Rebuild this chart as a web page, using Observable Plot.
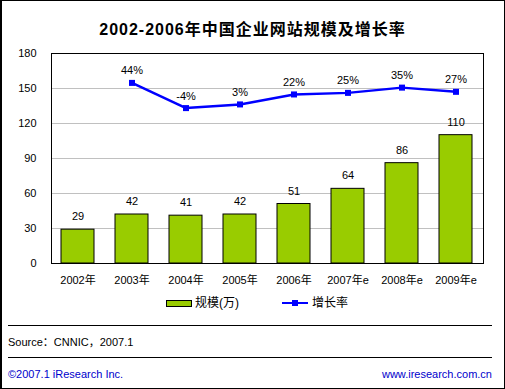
<!DOCTYPE html>
<html>
<head>
<meta charset="utf-8">
<script src="https://cdn.jsdelivr.net/npm/d3@7"></script>
<script src="https://cdn.jsdelivr.net/npm/@observablehq/plot@0.6"></script>
<style>
  html, body { margin: 0; padding: 0; background: #fff; }
  #wrap { position: relative; width: 505px; height: 389px; background: #fff; overflow: hidden;
          font-family: "Liberation Sans", "Noto Sans CJK SC", sans-serif; font-size: 11px; color: #000; }
  #border { position: absolute; left: 0; top: 0; width: 505px; height: 389px; box-sizing: border-box;
            border: 1px solid #000; border-left-width: 2px; pointer-events: none; }
  .abs { position: absolute; white-space: nowrap; line-height: 1; }
  #title { left: 0; width: 505px; top: 22px; text-align: center; font-weight: bold; font-size: 16px; letter-spacing: 1px; }
  #chart { position: absolute; left: 0; top: 40px; }
  .hr { position: absolute; left: 8px; width: 484px; height: 0; border-top: 1px solid #000; }
</style>
</head>
<body>
<div id="wrap">
  <div id="title" class="abs">2002-2006年中国企业网站规模及增长率</div>
  <div id="chart"></div>
  <div class="abs" style="left:166px; top:300px; width:24px; height:5px; background:#99CC00; border:1px solid #000;"></div>
  <div class="abs" style="left:195px; top:297px; font-size:12px;">规模(万)</div>
  <div class="abs" style="left:282px; top:302px; width:26px; height:0; border-top:2px solid #0000FF;"></div>
  <div class="abs" style="left:292px; top:300px; width:6px; height:6px; background:#0000FF;"></div>
  <div class="abs" style="left:312px; top:297px; font-size:12px;">增长率</div>
  <div class="hr" style="top:325px;"></div>
  <div class="abs" style="left:8px; top:337px; font-size:11px;">Source：CNNIC，2007.1</div>
  <div class="hr" style="top:357px;"></div>
  <div class="abs" style="left:8px; top:369px; font-size:11px; color:#0000CC;">©2007.1 iResearch Inc.</div>
  <div class="abs" style="right:13px; top:369px; font-size:11px; color:#0000CC;">www.iresearch.com.cn</div>
  <div id="border"></div>
</div>
<script>
const years = ["2002年", "2003年", "2004年", "2005年", "2006年", "2007年e", "2008年e", "2009年e"];
const scale = [29, 42, 41, 42, 51, 64, 86, 110];
const growthYears = ["2003年", "2004年", "2005年", "2006年", "2007年e", "2008年e", "2009年e"];
const growth = [44, -4, 3, 22, 25, 35, 27];
const yTicks = [0, 30, 60, 90, 120, 150, 180];

// hidden secondary axis for growth rate (%): -300..100 mapped onto 0..180
const g2y = d3.scaleLinear().domain([-300, 100]).range([0, 180]);

const bars = years.map((y, i) => ({year: y, value: scale[i]}));
const rates = growthYears.map((y, i) => ({year: y, rate: growth[i], pos: g2y(growth[i])}));

const font = "'Liberation Sans', 'Noto Sans CJK SC', sans-serif";

const chart = Plot.plot({
  width: 505,
  height: 255,
  marginLeft: 51,
  marginRight: 22,
  marginTop: 13,
  marginBottom: 32,
  style: {fontFamily: font, fontSize: "11px", color: "#000", background: "transparent"},
  x: {domain: years, paddingInner: 0.38, paddingOuter: 0.19, label: null},
  y: {domain: [0, 180], ticks: yTicks, label: null},
  marks: [
    Plot.gridY(yTicks, {stroke: "#c0c0c0", strokeOpacity: 1}),
    Plot.barY(bars, {x: "year", y: "value", fill: "#99CC00", stroke: "#000", strokeWidth: 1}),
    Plot.text(bars, {x: "year", y: "value", text: d => String(d.value), dy: -13, fontSize: 11, fill: "#000"}),
    Plot.line(rates, {x: "year", y: "pos", stroke: "#0000FF", strokeWidth: 2.5}),
    Plot.dot(rates, {x: "year", y: "pos", symbol: "square", r: 3.4, fill: "#0000FF", stroke: "none"}),
    Plot.text(rates, {x: "year", y: "pos", text: d => d.rate + "%", dy: -12, fontSize: 11, fill: "#000"}),
    Plot.frame({stroke: "#000", strokeWidth: 1}),
    Plot.axisY(yTicks, {tickSize: 0, tickPadding: 15, fontSize: 11}),
    Plot.axisX({tickSize: 0, tickPadding: 13, fontSize: 11})
  ]
});
document.getElementById("chart").appendChild(chart);
</script>
</body>
</html>
